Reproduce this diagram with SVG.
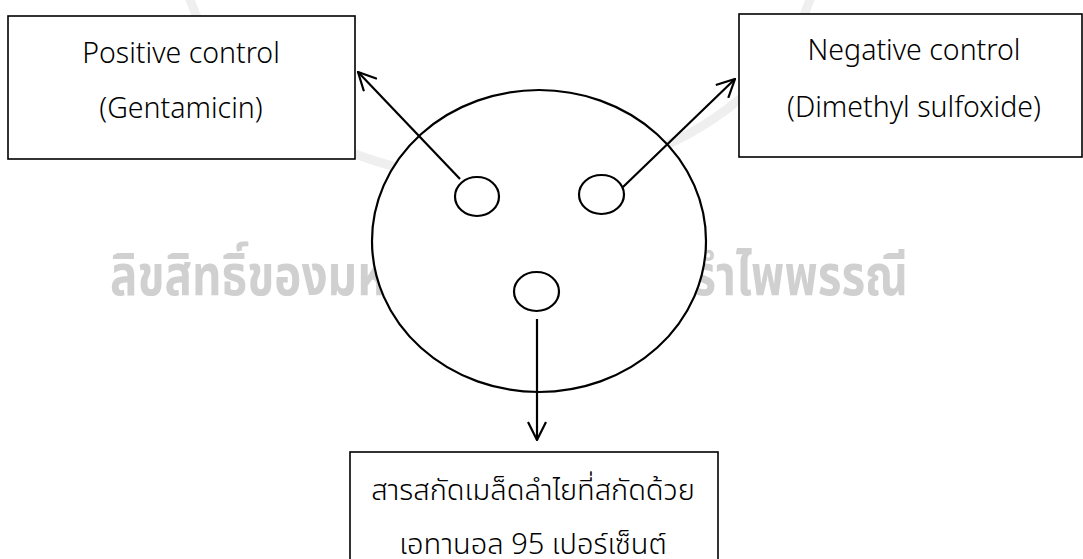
<svg xmlns="http://www.w3.org/2000/svg" width="1083" height="559" viewBox="0 0 1083 559">
<style>
.box{fill:#fff;stroke:#000;stroke-width:1.6}
.lbl{font-family:"Noto Sans","Noto Sans Thai","Noto Sans Thai Looped","DejaVu Sans",sans-serif;font-size:28.5px;font-weight:300;fill:#000;text-anchor:middle}
.th{font-size:29px}
.ell{fill:#fff;stroke:#000;stroke-width:2.2}
.conn{fill:none;stroke:#000;stroke-width:2.2}
.wm{font-family:"Noto Sans Thai","Noto Sans","DejaVu Sans",sans-serif;font-weight:700;font-size:56px;fill:#d0d0d0}
</style>
<defs>
<marker id="arr" viewBox="0 0 20 20" markerWidth="20" markerHeight="20" refX="19" refY="10" orient="auto" markerUnits="userSpaceOnUse">
<path d="M1,1 L19,10 L1,19" fill="none" stroke="#000" stroke-width="2.2"/>
</marker>
</defs>
<rect width="1083" height="559" fill="#fff"/>
<g id="watermark">
<ellipse cx="500" cy="-60" rx="320" ry="240" fill="none" stroke="#efefef" stroke-width="9"/>
<text class="wm" x="110" y="295" textLength="798" lengthAdjust="spacingAndGlyphs">ลิขสิทธิ์ของมหาวิทยาลัยราชภัฏรำไพพรรณี</text>
</g>
<g id="plate">
<ellipse class="ell" cx="539" cy="241" rx="167" ry="151"/>
</g>
<g id="well-positive"><ellipse class="ell" cx="477" cy="196.5" rx="22" ry="19.5"/></g>
<g id="well-negative"><ellipse class="ell" cx="601.5" cy="194.5" rx="22.5" ry="19.5"/></g>
<g id="well-extract"><ellipse class="ell" cx="536.5" cy="291.5" rx="22.5" ry="19.5"/></g>
<g id="positive-control">
<rect class="box" x="8" y="16" width="347" height="143"/>
<text class="lbl" x="181" y="63">Positive control</text>
<text class="lbl" x="181" y="118">(Gentamicin)</text>
</g>
<g id="negative-control">
<rect class="box" x="739" y="14" width="343" height="143"/>
<text class="lbl" x="914" y="60">Negative control</text>
<text class="lbl" x="914" y="117">(Dimethyl sulfoxide)</text>
</g>
<g id="extract">
<rect class="box" x="350" y="452" width="368" height="120"/>
<text class="lbl th" x="533" y="500">สารสกัดเมล็ดลำไยที่สกัดด้วย</text>
<text class="lbl th" x="533" y="554">เอทานอล 95 เปอร์เซ็นต์</text>
</g>
<g id="connectors">
<line class="conn" x1="460" y1="179" x2="358" y2="72" marker-end="url(#arr)"/>
<line class="conn" x1="623" y1="187" x2="735" y2="79" marker-end="url(#arr)"/>
<line class="conn" x1="537" y1="319" x2="537" y2="440" marker-end="url(#arr)"/>
</g>
</svg>
